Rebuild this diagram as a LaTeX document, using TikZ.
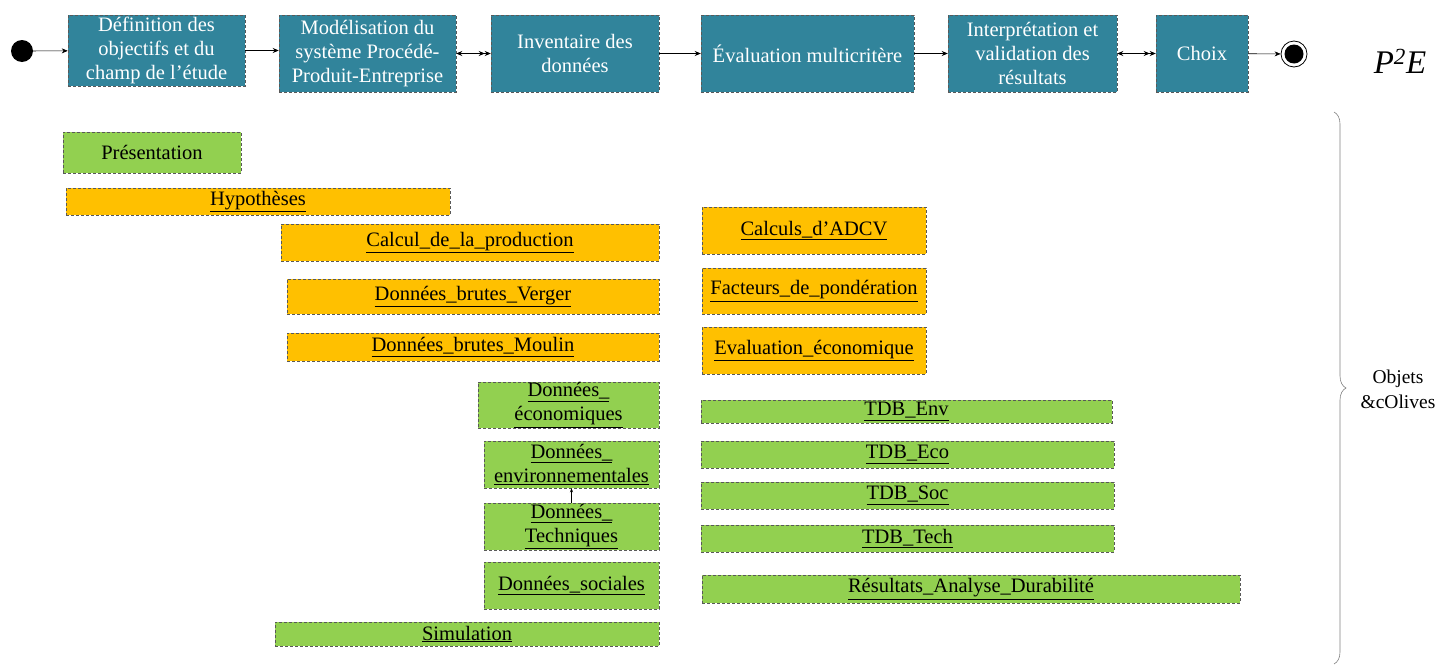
\documentclass[tikz,border=0pt]{standalone}
\usepackage{fontspec}
\setmainfont{Liberation Serif}
\usepackage{tikz}
\usetikzlibrary{arrows.meta, positioning, calc, decorations.pathreplacing}
\definecolor{p2eteal}{HTML}{31849B}
\definecolor{p2egreen}{HTML}{92D050}
\definecolor{p2eorange}{HTML}{FFC000}
\newcommand{\lnk}[1]{\underline{#1}}

\begin{document}
\begin{tikzpicture}[
  x=1pt, y=-1pt,
  box/.style 2 args={draw=black!65, densely dashed, line width=0.5pt, inner sep=0pt,
                     align=center, minimum width=#1pt, minimum height=#2pt,
                     font=\fontsize{20.5}{24}\selectfont},
  step box/.style={fill=p2eteal, text=white},
  gbox/.style={fill=p2egreen},
  obox/.style={fill=p2eorange},
  flow/.style={-{Stealth[length=6pt, width=5pt]}, line width=0.6pt},
  biflow/.style={{Stealth[length=6pt, width=5pt]}-{Stealth[length=6pt, width=5pt]Stealth[length=6pt, width=5pt]},
                 line width=0.6pt},
  startstate/.style={circle, fill=black, minimum size=22pt, inner sep=0pt},
  endstate/.style={circle, draw=black, line width=0.8pt, minimum size=26pt, inner sep=0pt,
                   path picture={\fill (path picture bounding box.center) circle (9.5pt);}}
]
  \useasboundingbox (0,0) rectangle (1445,664);

  % ── démarche P2E ────────────────────────────────────────────────────────
  \node[startstate] (deb) at (22,51) {};
  \node[box={177}{71}, step box] (def)    at (156.5,50.5) {Définition des\\objectifs et du\\champ de l’étude};
  \node[box={177}{77}, step box] (mod)    at (367.5,53.5) {Modélisation du\\système Procédé-\\Produit-Entreprise};
  \node[box={168}{77}, step box] (inv)    at (575,53.5)   {Inventaire des\\données};
  \node[box={213}{77}, step box] (evalmc) at (807.5,53.5) {Évaluation multicritère};
  \node[box={169}{77}, step box] (interp) at (1032.5,53.5) {Interprétation et\\validation des\\résultats};
  \node[box={92}{77}, step box]  (choix)  at (1202,53.5)  {Choix};
  \node[endstate] (fin) at (1294,54) {};
  \node[font=\fontsize{33}{33}\selectfont\itshape] (p2e) at (1400,61) {P\textsuperscript{2}E};

  \draw[flow]   (deb)          -- (def);
  \draw[flow]   (def.east)     -- (def.east -| mod.west);
  \draw[biflow] (mod)          -- (inv);
  \draw[flow]   (inv)          -- (evalmc);
  \draw[flow]   (evalmc)       -- (interp);
  \draw[biflow] (interp)       -- (choix);
  \draw[flow]   (choix)        -- (fin);

  % ── objets, colonne gauche ──────────────────────────────────────────────
  \node[box={178}{41}, gbox] (pres)   at (152,152.5) {Présentation};
  \node[box={384}{27}, obox] (hyp)    at (258,201.5) {\lnk{Hypothèses}};
  \node[box={378}{37}, obox] (calc)   at (470,242.5) {\lnk{Calcul\_de\_la\_production}};
  \node[box={372}{35}, obox] (verger) at (473,296.5) {\lnk{Données\_brutes\_Verger}};
  \node[box={372}{28}, obox] (moulin) at (473,347)   {\lnk{Données\_brutes\_Moulin}};
  \node[box={181}{46}, gbox] (deco)   at (568.5,405) {\lnk{Données\_}\\\lnk{économiques}};
  \node[box={175}{47}, gbox] (denv)   at (571.5,464.5) {\lnk{Données\_}\\\lnk{environnementales}};
  \node[box={175}{47}, gbox] (dtech)  at (571.5,526.5) {\lnk{Données\_}\\\lnk{Techniques}};
  \node[box={175}{47}, gbox] (dsoc)   at (571.5,585.5) {\lnk{Données\_sociales}};
  \node[box={384}{24}, gbox] (simu)   at (467,634)   {\lnk{Simulation}};

  \draw[-{Stealth[length=4pt, width=3pt]}, line width=0.5pt] (dtech) -- (denv);

  % ── objets, colonne droite ──────────────────────────────────────────────
  \node[box={224}{47}, obox] (adcv)    at (814,230.5) {\lnk{Calculs\_d’ADCV}};
  \node[box={224}{46}, obox] (fact)    at (814,291)   {\lnk{Facteurs\_de\_pondération}};
  \node[box={224}{47}, obox] (evaleco) at (814,350.5) {\lnk{Evaluation\_économique}};
  \node[box={411}{23}, gbox] (tenv)    at (906.5,411.5) {\lnk{TDB\_Env}};
  \node[box={413}{27}, gbox] (teco)    at (907.5,454.5) {\lnk{TDB\_Eco}};
  \node[box={413}{27}, gbox] (tsoc)    at (907.5,495.5) {\lnk{TDB\_Soc}};
  \node[box={413}{27}, gbox] (ttech)   at (907.5,538.5) {\lnk{TDB\_Tech}};
  \node[box={538}{28}, gbox] (res)     at (971,589)   {\lnk{Résultats\_Analyse\_Durabilité}};

  % ── accolade ────────────────────────────────────────────────────────────
  \coordinate (acchaut) at (1334,112);
  \coordinate (accbas)  at (1334,664);
  \draw[gray, line width=0.6pt, decorate, decoration={brace, amplitude=12pt}] (acchaut) -- (accbas);
  \node[align=center, font=\fontsize{19.5}{25}\selectfont] (objets) at (1398,389) {Objets\\\&cOlives};
\end{tikzpicture}
\end{document}
